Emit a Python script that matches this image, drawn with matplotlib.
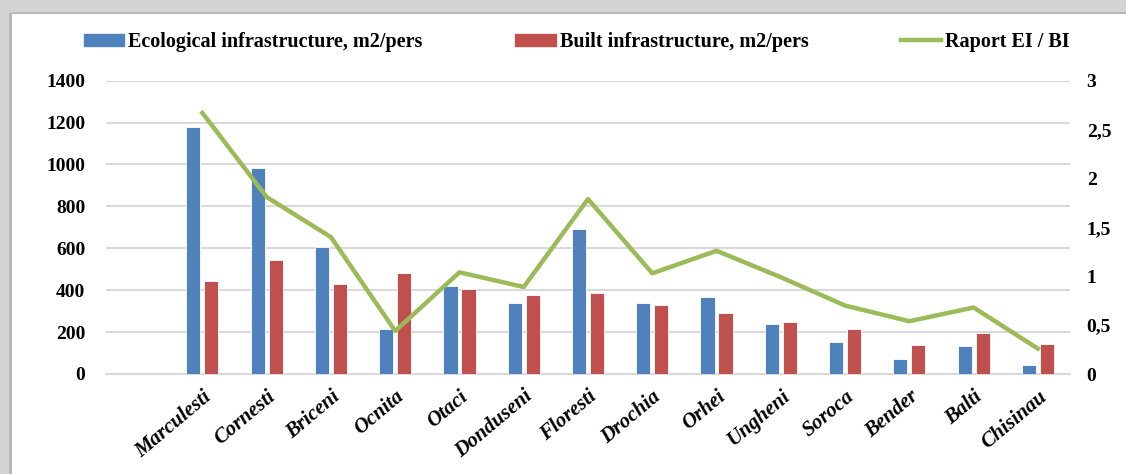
import matplotlib.pyplot as plt
import numpy as np
from matplotlib.patches import Rectangle, Patch
from matplotlib.lines import Line2D

# data (first category is an empty slot, as in the original chart)
towns = ["", "Marculesti", "Cornesti", "Briceni", "Ocnita", "Otaci", "Donduseni",
         "Floresti", "Drochia", "Orhei", "Ungheni", "Soroca", "Bender", "Balti", "Chisinau"]
eco_infra = [np.nan, 1180, 982, 606, 214, 422, 337, 692, 341, 368, 241, 152, 71, 133, 41]
built_infra = [np.nan, 443, 546, 430, 481, 406, 376, 387, 329, 290, 248, 214, 137, 194, 144]
ratio = [np.nan, 2.67, 1.81, 1.40, 0.44, 1.04, 0.89, 1.79, 1.03, 1.26, 0.99, 0.70, 0.54, 0.68, 0.26]

blue = "#4F81BD"
red = "#C0504D"
green = "#9BBB59"

plt.rcParams['font.family'] = ['Liberation Serif', 'DejaVu Serif']
plt.rcParams['font.weight'] = 'bold'

fig = plt.figure(figsize=(11.26, 4.74), dpi=100)

# grey frame band (top and left), like the shadowed border in the source
fig.patches.append(Rectangle((0, 1 - 13/474), 1, 13/474, transform=fig.transFigure,
                             facecolor="#d4d4d4", edgecolor="none", zorder=0))
fig.patches.append(Rectangle((0, 1 - 14/474), 1, 2/474, transform=fig.transFigure,
                             facecolor="#b8b8b8", edgecolor="none", zorder=0))
fig.patches.append(Rectangle((0, 0), 12/1126, 1, transform=fig.transFigure,
                             facecolor="#d4d4d4", edgecolor="none", zorder=0))
fig.patches.append(Rectangle((9/1126, 0), 3/1126, 1 - 13/474, transform=fig.transFigure,
                             facecolor="#b8b8b8", edgecolor="none", zorder=0))

ax = fig.add_axes([106/1126, 1 - 374/474, (1070 - 106)/1126, (374 - 80.7)/474])
x = np.arange(len(towns))
w = 0.22
ax.bar(x - 0.14, eco_infra, width=w, color=blue, edgecolor="white", linewidth=0.6, zorder=3)
ax.bar(x + 0.14, built_infra, width=w, color=red, edgecolor="white", linewidth=0.6, zorder=3)

ax.set_xlim(-0.5, len(towns) - 0.5)
ax.set_ylim(0, 1400)
ax.set_yticks(range(0, 1401, 200))
ax.yaxis.grid(True, color="#d9d9d9", linewidth=1.5, zorder=0)
ax.set_axisbelow(True)
for s in ["top", "right", "left"]:
    ax.spines[s].set_visible(False)
ax.spines["bottom"].set_color("#d9d9d9")
ax.spines["bottom"].set_linewidth(1.5)
ax.tick_params(axis="both", length=0)
ax.tick_params(axis="y", pad=15, labelsize=14)
ax.set_xticks(x)
ax.set_xticklabels(towns, rotation=40, ha="right", rotation_mode="anchor",
                   style="italic", fontsize=15)
ax.tick_params(axis="x", pad=9)

ax2 = ax.twinx()
ax2.plot(x, ratio, color=green, linewidth=3.2, zorder=4)
ax2.set_ylim(0, 3)
ax2.set_yticks([0, 0.5, 1, 1.5, 2, 2.5, 3])
ax2.set_yticklabels(["0", "0,5", "1", "1,5", "2", "2,5", "3"])
ax2.tick_params(axis="y", length=0, pad=12, labelsize=14)
for s in ax2.spines.values():
    s.set_visible(False)

handles = [Patch(color=blue), Patch(color=red), Line2D([0], [0], color=green, linewidth=3.2)]
labels = ["Ecological infrastructure, m2/pers", "Built infrastructure, m2/pers", "Raport EI / BI"]
fig.legend(handles, labels, loc="center", bbox_to_anchor=(577/1126, 1 - 42/474), ncol=3,
           frameon=False, fontsize=14.5, handlelength=2.0, handleheight=0.55,
           handletextpad=0.2, columnspacing=4.6)

fig.savefig("out.png", dpi=100, facecolor="white")
